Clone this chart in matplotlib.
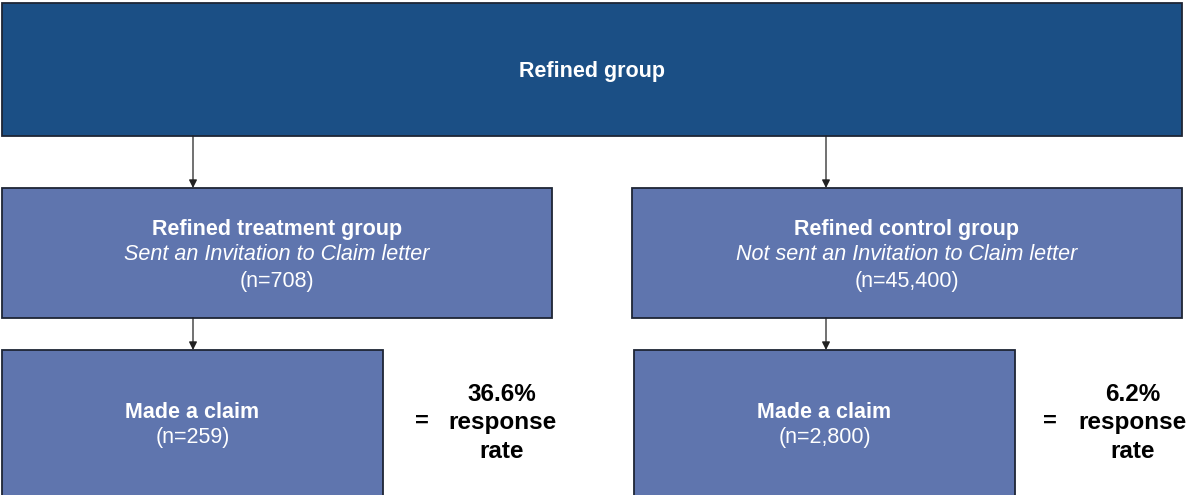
import matplotlib.pyplot as plt
from matplotlib.patches import Rectangle

plt.rcParams['font.family'] = ['Liberation Sans', 'DejaVu Sans']

# boxes: left, top, right, bottom (pixel space), fill colour
box_names = ['top', 'treat', 'control', 'claim_t', 'claim_c']
box_x0 = [2, 2, 632, 2, 634]
box_y0 = [3, 188, 188, 350, 350]
box_x1 = [1182, 552, 1182, 383, 1015]
box_y1 = [136, 318, 318, 500, 500]
box_col = ['#1b4f85', '#5f75ae', '#5f75ae', '#5f75ae', '#5f75ae']

titles = ['Refined group', 'Refined treatment group', 'Refined control group',
          'Made a claim', 'Made a claim']
subtitles = [None, 'Sent an Invitation to Claim letter', 'Not sent an Invitation to Claim letter',
             None, None]
counts = [None, '(n=708)', '(n=45,400)', '(n=259)', '(n=2,800)']

rates = ['36.6%', '6.2%']
rate_x = [502, 1133]
eq_x = [422, 1050]

# arrows: x, y start, y end
arr_x = [193, 826, 193, 826]
arr_y0 = [136, 136, 318, 318]
arr_y1 = [188, 188, 350, 350]

fs = 15.5

fig = plt.figure(figsize=(11.89, 4.95), dpi=100)
ax = fig.add_axes([0, 0, 1, 1])
ax.set_xlim(0, 1189)
ax.set_ylim(495, 0)
ax.axis('off')

for i in range(len(box_names)):
    ax.add_patch(Rectangle((box_x0[i], box_y0[i]), box_x1[i] - box_x0[i], box_y1[i] - box_y0[i],
                           facecolor=box_col[i], edgecolor='#1e2535', linewidth=1.3))
    cx = (box_x0[i] + box_x1[i]) / 2
    if i == 0:
        ax.text(cx, 72, titles[i], color='white', fontsize=fs, fontweight='bold',
                ha='center', va='center')
    elif subtitles[i]:
        ax.text(cx, 229, titles[i], color='white', fontsize=fs, fontweight='bold',
                ha='center', va='center')
        ax.text(cx, 255, subtitles[i], color='white', fontsize=fs, style='italic',
                ha='center', va='center')
        ax.text(cx, 282, counts[i], color='white', fontsize=fs, ha='center', va='center')
    else:
        ax.text(cx, 412, titles[i], color='white', fontsize=fs, fontweight='bold',
                ha='center', va='center')
        ax.text(cx, 438, counts[i], color='white', fontsize=fs, ha='center', va='center')

for i in range(len(arr_x)):
    ax.annotate('', xy=(arr_x[i], arr_y1[i]), xytext=(arr_x[i], arr_y0[i]),
                arrowprops=dict(arrowstyle='-|>', color='#222222', lw=0.9,
                                mutation_scale=12, shrinkA=0, shrinkB=0))

for i in range(len(rates)):
    ax.text(eq_x[i], 421, '=', fontsize=17, fontweight='bold', ha='center', va='center')
    ax.text(rate_x[i], 423, rates[i] + '\nresponse\nrate', fontsize=17.5, fontweight='bold',
            ha='center', va='center', linespacing=1.33)

fig.savefig('out.png', dpi=100)
